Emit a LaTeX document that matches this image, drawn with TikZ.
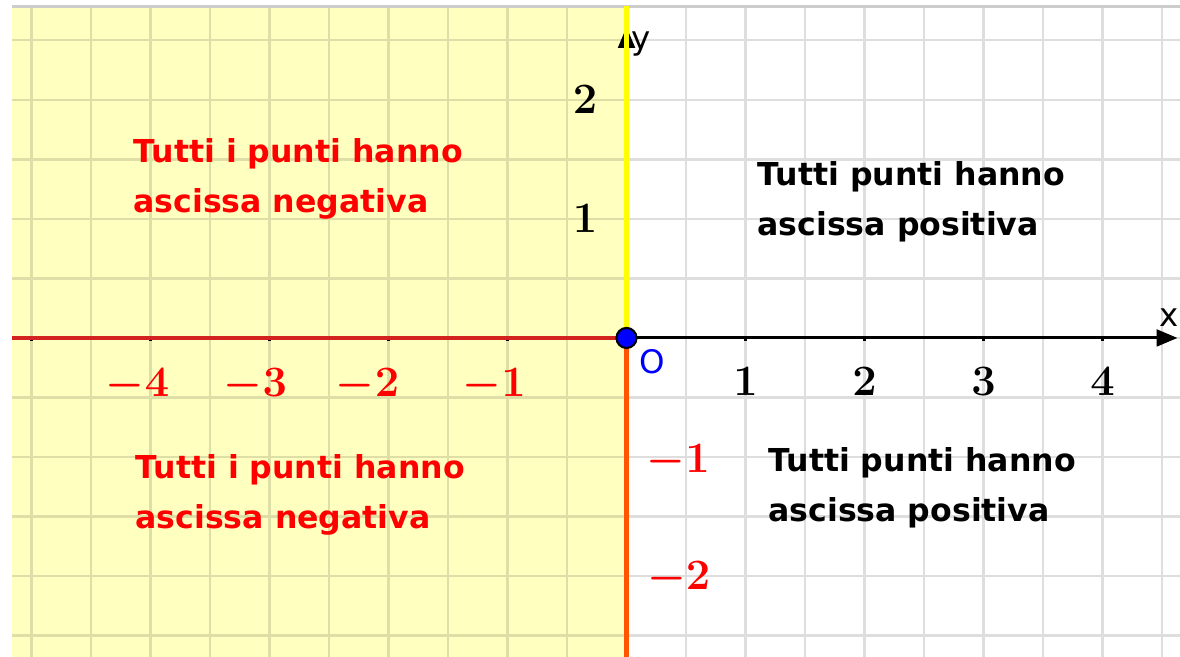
\documentclass[tikz,border=0pt]{standalone}
\usepackage{fontspec}
\setsansfont{DejaVu Sans}
\usepackage{tikz}
\usetikzlibrary{arrows.meta}
\definecolor{GGYellow}{RGB}{255,255,192}
\definecolor{GGFrame}{RGB}{205,205,205}
\definecolor{GGRed}{RGB}{210,35,30}
\definecolor{GGOrange}{RGB}{255,85,0}
\definecolor{GGRay}{RGB}{255,255,0}

\begin{document}
\begin{tikzpicture}[x=2cm, y=2cm,
          gridline/.style={draw=black, draw opacity=0.13, line width=1pt},
          axis/.style={draw=black, line width=1.4pt,
                       -{Triangle[length=10pt, width=8pt]}},
          ray/.style={line width=2.2pt},
          txt/.style={font=\sffamily\bfseries\fontsize{15.1}{23.9}\selectfont,
                      align=left, anchor=west, inner sep=0pt},
          num/.style={font=\fontsize{21}{24}\selectfont\boldmath, inner sep=0pt},
          axlbl/.style={font=\sffamily\fontsize{15.5}{18}\selectfont, inner sep=0pt}
        ]
        \useasboundingbox (-5.265,-2.681) rectangle (4.651,2.840);

        % half plane x < 0 and grid
        \fill[GGYellow] (-5.164,-2.681) rectangle (0,2.786);
        \draw[gridline] (-5.164,-2.681) grid[step=0.5] (4.651,2.786);
        \draw[GGFrame, line width=1.5pt] (-5.164,2.786) -- (4.651,2.786);

        \coordinate (O)      at (0,0);
        \coordinate (xstart) at (-5.164,0);
        \coordinate (xend)   at (4.63,0);
        \coordinate (ytop)   at (0,2.786);
        \coordinate (yarrow) at (0,2.613);
        \coordinate (ybot)   at (0,-2.681);

        \draw[axis] (xstart) -- (xend);
        \draw[axis] (ybot) -- (yarrow);
        \foreach \i in {-5,...,4}
          \draw[line width=1pt] (\i,0) -- (\i,-0.025);
        \foreach \j in {-2,...,2}
          \draw[line width=1pt] (0,\j) -- (-0.025,\j);

        \draw[ray, GGRed]    (O) -- (xstart);
        \draw[ray, GGRay]    (O) -- (ytop);
        \draw[ray, GGOrange] (O) -- (ybot);

        \node[circle, fill=blue, draw=black, line width=1pt,
              minimum size=9.6pt, inner sep=0pt] (orig) at (O) {};
        \node[axlbl, text=blue] (olbl) at (0.215,-0.2) {O};
        \node[axlbl] (xlbl) at (4.56,0.17) {x};
        \node[axlbl] (ylbl) at (0.12,2.47) {y};

        \foreach \i in {1,...,4}
          \node[num] (xp\i) at (\i,-0.37) {$\i$};
        \foreach \i/\xx in {4/-4.109, 3/-3.118, 2/-2.176, 1/-1.113}
          \node[num, text=red] (xm\i) at (\xx,-0.395) {$-\i$};
        \node[num] (yp2) at (-0.349,2.0) {$2$};
        \node[num] (yp1) at (-0.349,1.0) {$1$};
        \node[num, text=red] (ym1) at (0.433,-1.04) {$-1$};
        \node[num, text=red] (ym2) at (0.438,-2.017) {$-2$};

        \node[txt, text=red] (negtop) at (-4.147,1.333)
              {Tutti i punti hanno\\ascissa negativa};
        \node[txt, text=red] (negbot) at (-4.13,-1.323)
              {Tutti i punti hanno\\ascissa negativa};
        \node[txt] (postop) at (1.097,1.148)
              {Tutti punti hanno\\ascissa positiva};
        \node[txt] (posbot) at (1.189,-1.26)
              {Tutti punti hanno\\ascissa positiva};
      \end{tikzpicture}
\end{document}
